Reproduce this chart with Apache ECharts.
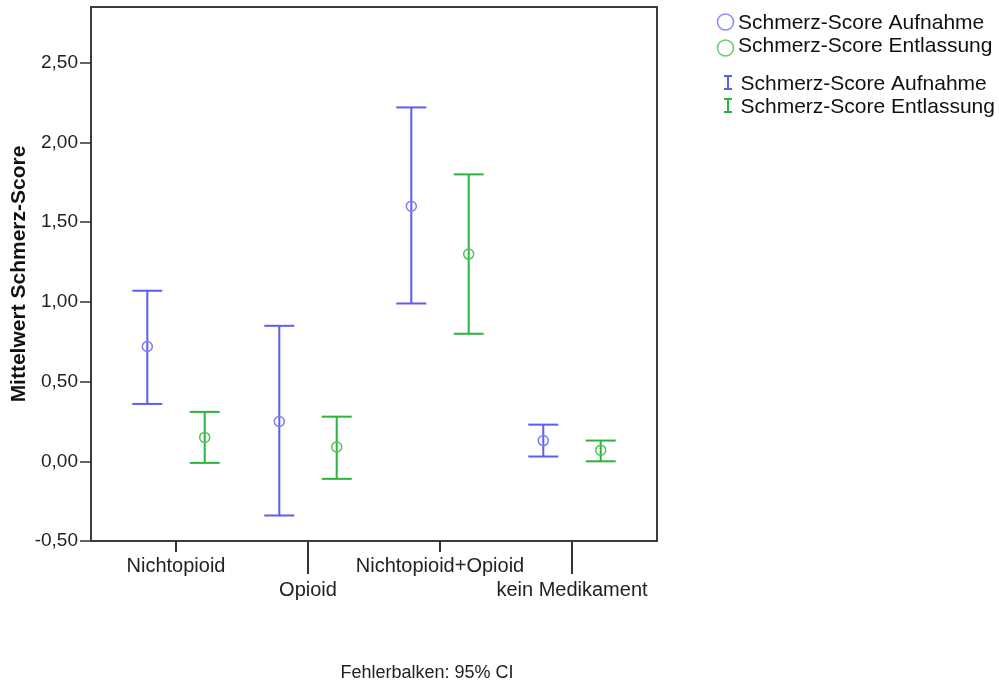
<!DOCTYPE html>
<html>
<head>
<meta charset="utf-8">
<script src="https://cdn.jsdelivr.net/npm/echarts@6/dist/echarts.min.js"></script>
<style>
  html, body { margin: 0; padding: 0; background: #fff; }
  #chart { width: 999px; height: 684px; }
</style>
</head>
<body>
<div id="chart"></div>
<script>
// Pain score means with 95% confidence intervals, per medication group
const categories = ['Nichtopioid', 'Opioid', 'Nichtopioid+Opioid', 'kein Medikament'];

const aufnahmeMean  = [0.72, 0.25, 1.60, 0.13];
const aufnahmeLower = [0.36, -0.34, 0.99, 0.03];
const aufnahmeUpper = [1.07, 0.85, 2.22, 0.23];

const entlassungMean  = [0.15, 0.09, 1.30, 0.07];
const entlassungLower = [-0.01, -0.11, 0.80, 0.00];
const entlassungUpper = [0.31, 0.28, 1.80, 0.13];

const yTicks = [-0.5, 0, 0.5, 1, 1.5, 2, 2.5];
const seriesNames = ['Schmerz-Score Aufnahme', 'Schmerz-Score Entlassung'];
const yTitle = 'Mittelwert Schmerz-Score';
const footnote = 'Fehlerbalken: 95% CI';

const FONT = "'Liberation Sans', Arial, Helvetica, sans-serif";
const BLUE_BAR = '#5c5cf8';
const BLUE_DOT = '#7c7cf6';
const GREEN_BAR = '#2cb23e';
const GREEN_DOT = '#52c05e';

function toRows(mean, lower, upper) {
  return categories.map((c, i) => [i, mean[i], lower[i], upper[i]]);
}

// Error bar with caps and an open circle at the mean, shifted sideways in pixels
function errorBar(offsetPx, barColor, dotColor) {
  return function (params, api) {
    const idx = api.value(0);
    const top = api.coord([idx, api.value(3)]);
    const bot = api.coord([idx, api.value(2)]);
    const mid = api.coord([idx, api.value(1)]);
    const x = top[0] + offsetPx;
    const half = 15;
    const lineStyle = { stroke: barColor, lineWidth: 2, fill: null };
    return {
      type: 'group',
      children: [
        { type: 'line', shape: { x1: x, y1: top[1], x2: x, y2: bot[1] }, style: lineStyle },
        { type: 'line', shape: { x1: x - half, y1: top[1], x2: x + half, y2: top[1] }, style: lineStyle },
        { type: 'line', shape: { x1: x - half, y1: bot[1], x2: x + half, y2: bot[1] }, style: lineStyle },
        { type: 'circle', shape: { cx: x, cy: mid[1], r: 5 }, style: { stroke: dotColor, lineWidth: 1.5, fill: null } }
      ]
    };
  };
}

function legendIBeam(cx, cy, color) {
  return {
    type: 'group',
    children: [
      { type: 'line', shape: { x1: cx, y1: cy - 6.5, x2: cx, y2: cy + 6.5 }, style: { stroke: color, lineWidth: 2 } },
      { type: 'line', shape: { x1: cx - 4, y1: cy - 6.5, x2: cx + 4, y2: cy - 6.5 }, style: { stroke: color, lineWidth: 2 } },
      { type: 'line', shape: { x1: cx - 4, y1: cy + 6.5, x2: cx + 4, y2: cy + 6.5 }, style: { stroke: color, lineWidth: 2 } }
    ]
  };
}

const legendText = { fill: '#111', fontSize: 21, fontFamily: FONT, verticalAlign: 'middle', align: 'left' };

const categoryLabel = {
  show: true, fontSize: 20, fontFamily: FONT, color: '#222', lineHeight: 24, hideOverlap: false,
  formatter: function (v) { return categories[Math.round(v)]; }
};

const chart = echarts.init(document.getElementById('chart'), null, { renderer: 'canvas' });

chart.setOption({
  backgroundColor: '#fff',
  animation: false,
  grid: {
    left: 91, top: 7, right: 342, bottom: 143,
    containLabel: false, outerBoundsMode: 'none',
    show: true, borderColor: '#3c3c3c', borderWidth: 2, backgroundColor: 'transparent'
  },
  xAxis: [
    {
      // first row of group labels, short ticks
      type: 'value', min: -0.644, max: 3.644, position: 'bottom',
      axisLine: { show: false, onZero: false },
      splitLine: { show: false },
      axisTick: { show: true, customValues: [0, 2], length: 11, lineStyle: { color: '#333', width: 2 } },
      axisLabel: Object.assign({ customValues: [0, 2], margin: 13 }, categoryLabel)
    },
    {
      // second row of group labels, long ticks
      type: 'value', min: -0.644, max: 3.644, position: 'bottom',
      axisLine: { show: false, onZero: false },
      splitLine: { show: false },
      axisTick: { show: true, customValues: [1, 3], length: 33, lineStyle: { color: '#333', width: 2 } },
      axisLabel: Object.assign({ customValues: [1, 3], margin: 37 }, categoryLabel)
    }
  ],
  yAxis: {
    type: 'value', min: -0.5, max: 2.85,
    axisLine: { show: false, onZero: false },
    splitLine: { show: false },
    axisTick: { show: true, customValues: yTicks, length: 11, lineStyle: { color: '#333', width: 1.5 } },
    axisLabel: {
      customValues: yTicks, margin: 13, fontSize: 19, fontFamily: FONT, color: '#222',
      formatter: function (v) { return v.toFixed(2).replace('.', ','); }
    },
    name: yTitle, nameLocation: 'middle', nameGap: 61, nameMoveOverlap: false,
    nameTextStyle: { fontSize: 21, fontWeight: 'bold', fontFamily: FONT, color: '#111' }
  },
  series: [
    {
      name: seriesNames[0], type: 'custom', xAxisIndex: 0,
      renderItem: errorBar(-28.7, BLUE_BAR, BLUE_DOT),
      encode: { x: 0, y: [1, 2, 3] },
      data: toRows(aufnahmeMean, aufnahmeLower, aufnahmeUpper)
    },
    {
      name: seriesNames[1], type: 'custom', xAxisIndex: 0,
      renderItem: errorBar(28.7, GREEN_BAR, GREEN_DOT),
      encode: { x: 0, y: [1, 2, 3] },
      data: toRows(entlassungMean, entlassungLower, entlassungUpper)
    }
  ],
  graphic: [
    { type: 'circle', shape: { cx: 725.5, cy: 22, r: 8 }, style: { stroke: '#8a8aff', lineWidth: 1.5, fill: null } },
    { type: 'text', x: 738, y: 23, style: Object.assign({ text: seriesNames[0] }, legendText) },
    { type: 'circle', shape: { cx: 725.5, cy: 48, r: 8 }, style: { stroke: '#6cc86c', lineWidth: 1.5, fill: null } },
    { type: 'text', x: 738, y: 46, style: Object.assign({ text: seriesNames[1] }, legendText) },
    legendIBeam(728, 82.5, BLUE_BAR),
    { type: 'text', x: 740.5, y: 84, style: Object.assign({ text: seriesNames[0] }, legendText) },
    legendIBeam(728, 105.5, GREEN_BAR),
    { type: 'text', x: 740.5, y: 107, style: Object.assign({ text: seriesNames[1] }, legendText) },
    {
      type: 'text', x: 427, y: 673,
      style: { text: footnote, fill: '#222', fontSize: 18, fontFamily: FONT, align: 'center', verticalAlign: 'middle' }
    }
  ]
});
</script>
</body>
</html>
